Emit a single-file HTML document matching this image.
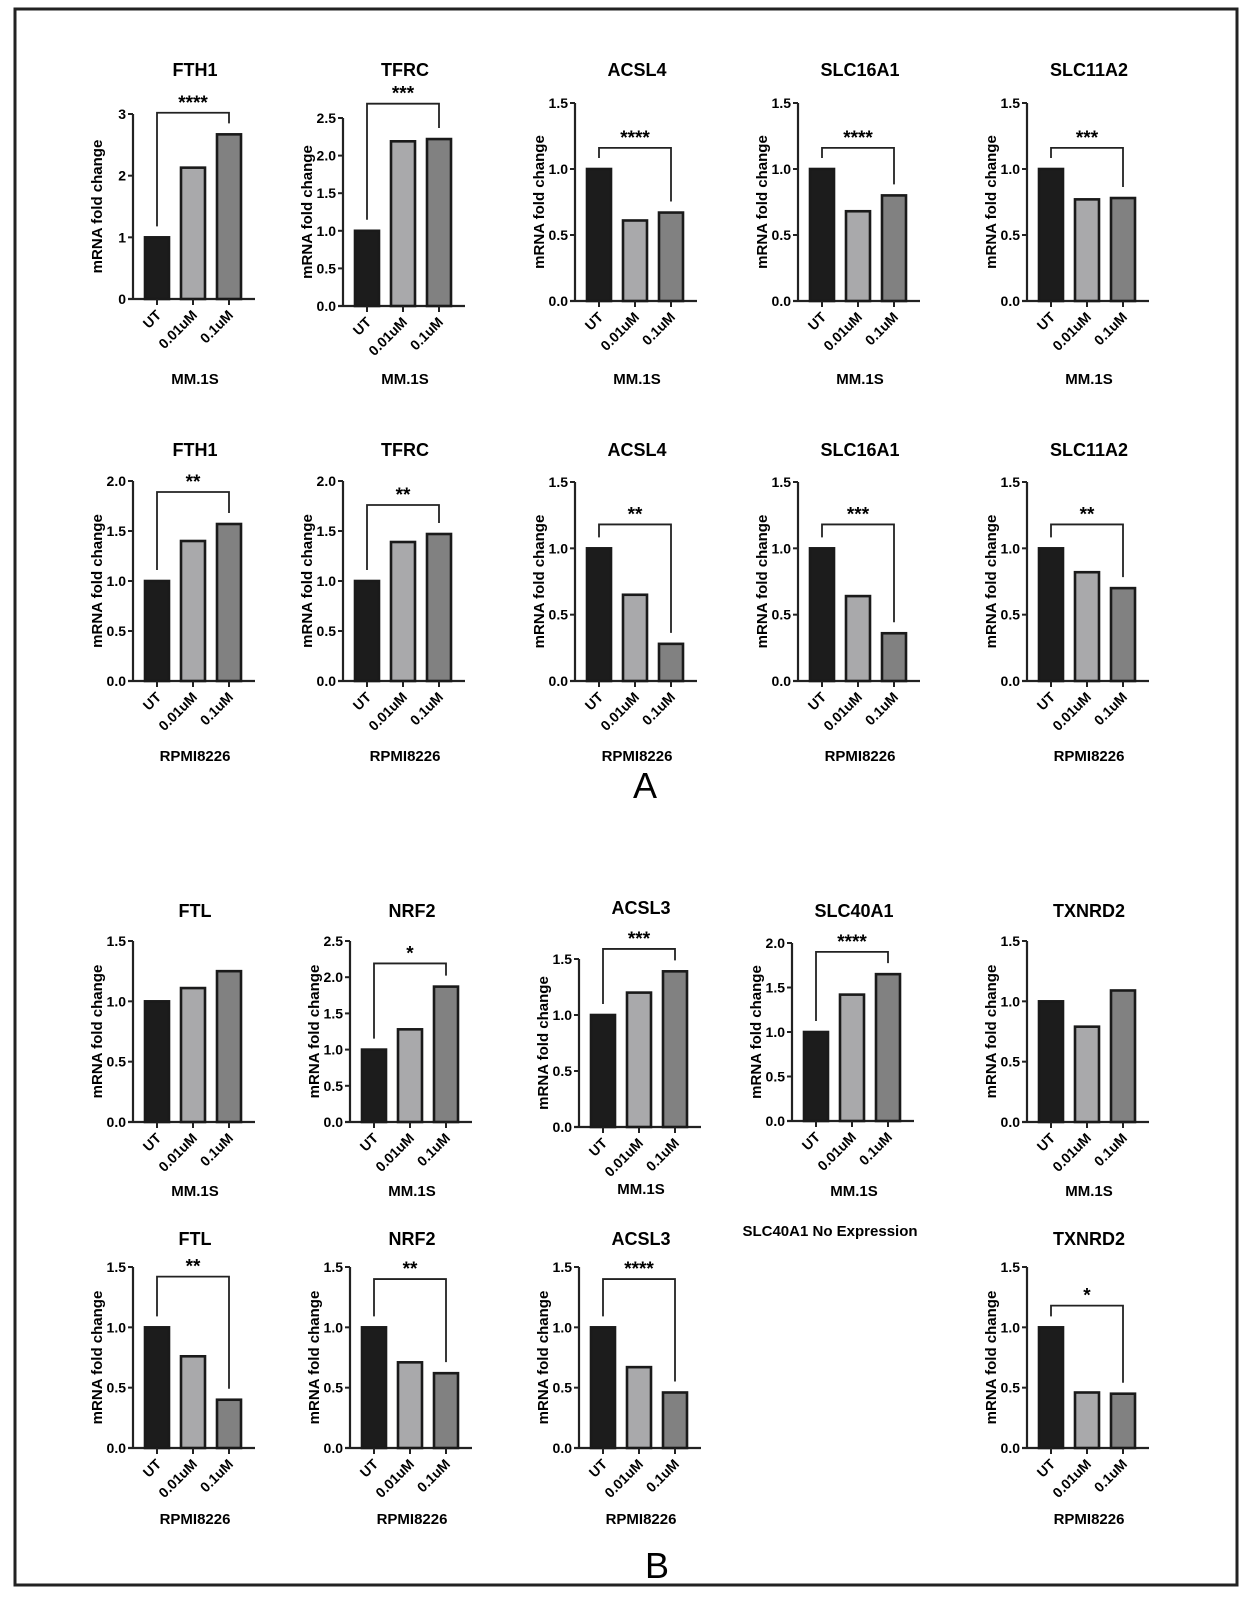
<!DOCTYPE html>
<html><head><meta charset="utf-8"><style>
html,body{margin:0;padding:0;background:#fff;}
svg{display:block;font-family:"Liberation Sans",Arial,sans-serif;font-weight:bold;}
</style></head><body>
<svg id="fig" width="1250" height="1613" viewBox="0 0 1250 1613">
<rect x="15" y="9" width="1222" height="1576" fill="none" stroke="#222" stroke-width="3"/>
<text x="645" y="798" font-size="36" font-weight="normal" text-anchor="middle">A</text>
<text x="657" y="1578" font-size="36" font-weight="normal" text-anchor="middle">B</text>
<text x="830" y="1236" font-size="15" text-anchor="middle">SLC40A1 No Expression</text>
</svg>
<script>
const categories = ["UT","0.01uM","0.1uM"];
const titles = ["FTH1","TFRC","ACSL4","SLC16A1","SLC11A2","FTH1","TFRC","ACSL4","SLC16A1","SLC11A2","FTL","NRF2","ACSL3","SLC40A1","TXNRD2","FTL","NRF2","ACSL3","TXNRD2"];
const cellLines = ["MM.1S","MM.1S","MM.1S","MM.1S","MM.1S","RPMI8226","RPMI8226","RPMI8226","RPMI8226","RPMI8226","MM.1S","MM.1S","MM.1S","MM.1S","MM.1S","RPMI8226","RPMI8226","RPMI8226","RPMI8226"];
const valuesUT = [1,1,1,1,1, 1,1,1,1,1, 1,1,1,1,1, 1,1,1,1];
const values001 = [2.13,2.19,0.61,0.68,0.77, 1.40,1.39,0.65,0.64,0.82, 1.11,1.28,1.20,1.42,0.79, 0.76,0.71,0.67,0.46];
const values01 = [2.67,2.22,0.67,0.80,0.78, 1.57,1.47,0.28,0.36,0.70, 1.25,1.87,1.39,1.65,1.09, 0.40,0.62,0.46,0.45];
const yMax = [3,2.5,1.5,1.5,1.5, 2,2,1.5,1.5,1.5, 1.5,2.5,1.5,2,1.5, 1.5,1.5,1.5,1.5];
const tickStep = [1,0.5,0.5,0.5,0.5, 0.5,0.5,0.5,0.5,0.5, 0.5,0.5,0.5,0.5,0.5, 0.5,0.5,0.5,0.5];
const sigLabels = ["****","***","****","****","***", "**","**","**","***","**", "","*","***","****","", "**","**","****","*"];
const sigLevel = [3.02,2.69,1.16,1.16,1.16, 1.89,1.76,1.18,1.18,1.18, 0,2.19,1.59,1.90,0, 1.42,1.40,1.40,1.18];

// layout (pixel) — not data
const layout = [
 [133,114,299,69,378],[343,118,306,69,378],[575,103,301,69,378],[798,103,301,69,378],[1027,103,301,69,378],
 [133,481,681,449,755],[343,481,681,449,755],[575,482,681,449,755],[798,482,681,449,755],[1027,482,681,449,755],
 [133,941,1122,910,1190],[350,941,1122,910,1190],[579,959,1127,907,1188],[792,943,1121,910,1190],[1027,941,1122,910,1190],
 [133,1267,1448,1238,1518],[350,1267,1448,1238,1518],[579,1267,1448,1238,1518],[1027,1267,1448,1238,1518]
];
const fills = ["#1c1c1c","#a9a9ab","#818181"];
const NS = "http://www.w3.org/2000/svg";
const svg = document.getElementById('fig');
function mk(tag, attrs, parent){const e=document.createElementNS(NS,tag);for(const k in attrs)e.setAttribute(k,attrs[k]);(parent||svg).appendChild(e);return e;}

for(let i=0;i<titles.length;i++){
  const [ax,top,zero,ty,ly]=layout[i];
  const g=mk('g',{});
  
  
  const yS=v=>zero-(v/yMax[i])*(zero-top);
  const off=12,bw=24,pitch=36,len=122;
  const xC=k=>ax+off+bw/2+k*pitch;
  const t=mk('text',{x:ax+62,y:ty+7,'font-size':18,'text-anchor':'middle'},g);t.textContent=titles[i];
  
  
  const yl=mk('text',{x:0,y:0,'font-size':15,'text-anchor':'middle',transform:`translate(${ax-31},${(top+zero)/2}) rotate(-90)`},g);yl.textContent='mRNA fold change';
  
  
  const yAxis=mk('line',{x1:ax,y1:top,x2:ax,y2:zero,stroke:'#222','stroke-width':2.2},g);
  
  
  const xAxis=mk('line',{x1:ax-5,y1:zero,x2:ax+len,y2:zero,stroke:'#222','stroke-width':2.2},g);
  
  
  const nT=Math.round(yMax[i]/tickStep[i]);
  for(let k=0;k<=nT;k++){
    const v=k*tickStep[i],y=yS(v);
    mk('line',{x1:ax-5,y1:y,x2:ax,y2:y,stroke:'#222','stroke-width':2},g);
    const tl=mk('text',{x:ax-7,y:y+5,'font-size':14,'text-anchor':'end'},g);
    tl.textContent=tickStep[i]===1?String(v):v.toFixed(1);
    
    
  }
  const vals=[valuesUT[i],values001[i],values01[i]];
  for(let k=0;k<3;k++){
    const y=yS(vals[k]);
    const b=mk('rect',{x:ax+off+k*pitch,y:y,width:bw,height:zero-y,fill:fills[k],stroke:'#1a1a1a','stroke-width':2.6},g);
    
    
    mk('line',{x1:xC(k),y1:zero,x2:xC(k),y2:zero+6,stroke:'#222','stroke-width':2},g);
    const xl=mk('text',{x:0,y:0,'font-size':14,'text-anchor':'end',transform:`translate(${xC(k)+5},${zero+17}) rotate(-45)`},g);
    xl.textContent=categories[k];
    
    
  }
  const cl=mk('text',{x:ax+62,y:ly+6,'font-size':15,'text-anchor':'middle'},g);cl.textContent=cellLines[i];
  
  
  if(sigLabels[i]){
    const by=yS(sigLevel[i]);
    const l1=yS(vals[0])-11,l2=yS(vals[2])-11;
    const br=mk('path',{d:`M${xC(0)},${l1} V${by} H${xC(2)} V${l2}`,fill:'none',stroke:'#222','stroke-width':1.8},g);
    
    
    const st=mk('text',{x:(xC(0)+xC(2))/2,y:by-4,'font-size':19,'text-anchor':'middle'},g);st.textContent=sigLabels[i];
    
    
  }
}
</script>
</body></html>
